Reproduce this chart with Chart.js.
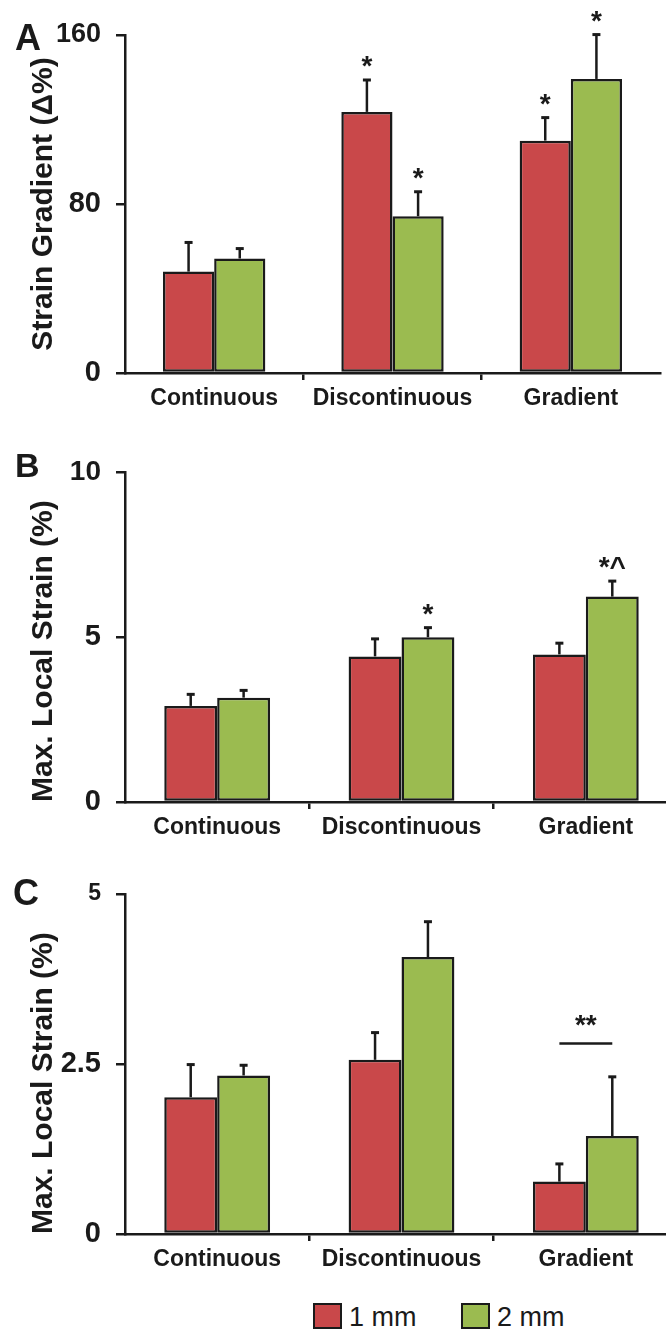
<!DOCTYPE html>
<html>
<head>
<meta charset="utf-8">
<script src="https://cdn.jsdelivr.net/npm/chart.js@4.4.1/dist/chart.umd.min.js"></script>
<style>
  html, body { margin: 0; padding: 0; background: #fff; overflow: hidden; }
  body { width: 666px; height: 1334px; position: relative; font-family: 'Liberation Sans', Arial, sans-serif; color: #1a1a1a; }
  canvas { position: absolute; left: 0; }
  .letra { position: absolute; font-weight: bold; font-size: 36px; line-height: 36px; }
  .caja { position: absolute; box-sizing: border-box; width: 29px; height: 26px; border: 2.5px solid #1a1a1a; }
  .texto { position: absolute; font-size: 27px; line-height: 26px; white-space: nowrap; }
</style>
</head>
<body>
<canvas id="panelA" width="666" height="440" style="top:0"></canvas>
<canvas id="panelB" width="690" height="425" style="top:440px"></canvas>
<canvas id="panelC" width="690" height="415" style="top:865px"></canvas>
<div class="letra" style="left:15px;top:20px">A</div>
<div class="letra" style="left:15px;top:448px;font-size:34px;line-height:34px">B</div>
<div class="letra" style="left:13px;top:875px">C</div>
<div id="leyenda"></div>
<script>
// ---------- Datos ----------
const categorias = ['Continuous', 'Discontinuous', 'Gradient']
const series = ['1 mm', '2 mm']

// Panel A: Strain Gradient (Δ%)
const gradiente1mm = [48, 123.6, 110]
const gradiente1mmErr = [13.8, 15.1, 10.9]
const gradiente1mmSig = ['', '*', '*']
const gradiente2mm = [54.2, 74.2, 139.2]
const gradiente2mmErr = [4.7, 11.6, 21]
const gradiente2mmSig = ['', '*', '*']
const ticksA = [0, 80, 160]

// Panel B: Max. Local Strain (%)
const deformB1mm = [2.91, 4.41, 4.47]
const deformB1mmErr = [0.35, 0.53, 0.34]
const deformB1mmSig = ['', '', '']
const deformB2mm = [3.16, 4.99, 6.22]
const deformB2mmErr = [0.22, 0.29, 0.47]
const deformB2mmSig = ['', '*', '*^']
const ticksB = [0, 5, 10]

// Panel C: Max. Local Strain (%)
const deformC1mm = [2.01, 2.56, 0.77]
const deformC1mmErr = [0.48, 0.4, 0.26]
const deformC2mm = [2.33, 4.07, 1.44]
const deformC2mmErr = [0.15, 0.52, 0.87]
const ticksC = [0, 2.5, 5]
// corchete "**" entre las dos barras de Gradient
const corcheteC = { categoria: 2, valor: 2.8, texto: '**' }

// ---------- Estilo ----------
const ROJO = '#c9484a'
const VERDE = '#9bbb50'
const NEGRO = '#1a1a1a'
const FUENTE = "'Liberation Sans', Arial, sans-serif"
Chart.defaults.font.family = FUENTE
Chart.defaults.color = NEGRO

// Texto centrado verticalmente en cy (usa la caja real del glifo)
function textoCentrado(ctx, texto, x, cy) {
  const m = ctx.measureText(texto)
  const base = cy + (m.actualBoundingBoxAscent - m.actualBoundingBoxDescent) / 2
  ctx.fillText(texto, x, base)
}

// ---------- Plugin: barras de error, asteriscos y corchete ----------
const barrasError = {
  id: 'barrasError',
  afterDatasetsDraw(chart) {
    const { ctx } = chart
    const y = chart.scales.y
    ctx.save()
    ctx.strokeStyle = NEGRO
    ctx.fillStyle = NEGRO
    ctx.textAlign = 'center'
    ctx.textBaseline = 'alphabetic'
    ctx.font = `bold 28px ${FUENTE}`
    chart.data.datasets.forEach((ds, i) => {
      const meta = chart.getDatasetMeta(i)
      meta.data.forEach((barra, j) => {
        const x = barra.x
        const yTop = y.getPixelForValue(ds.data[j] + ds.errores[j])
        ctx.lineWidth = 2.5
        ctx.beginPath()
        ctx.moveTo(x, barra.y)
        ctx.lineTo(x, yTop)
        ctx.stroke()
        ctx.lineWidth = 3
        ctx.beginPath()
        ctx.moveTo(x - 4, yTop)
        ctx.lineTo(x + 4, yTop)
        ctx.stroke()
        if (ds.sig && ds.sig[j]) textoCentrado(ctx, ds.sig[j], x, yTop - 18)
      })
    })
    const c = chart.options.corchete
    if (c) {
      const x1 = chart.getDatasetMeta(0).data[c.categoria].x
      const x2 = chart.getDatasetMeta(1).data[c.categoria].x
      const yc = y.getPixelForValue(c.valor)
      ctx.lineWidth = 2.5
      ctx.beginPath()
      ctx.moveTo(x1, yc)
      ctx.lineTo(x2, yc)
      ctx.stroke()
      textoCentrado(ctx, c.texto, (x1 + x2) / 2, yc - 23)
    }
    ctx.restore()
  }
}

// ---------- Creación de cada panel ----------
function crearPanel(id, p) {
  const maximo = p.ticks[p.ticks.length - 1]
  new Chart(document.getElementById(id), {
    type: 'bar',
    data: {
      labels: categorias,
      datasets: [
        {
          label: series[0], data: p.v1, errores: p.e1, sig: p.s1,
          backgroundColor: ROJO, borderColor: NEGRO, borderWidth: 2.5, borderSkipped: false
        },
        {
          label: series[1], data: p.v2, errores: p.e2, sig: p.s2,
          backgroundColor: VERDE, borderColor: NEGRO, borderWidth: 2.5, borderSkipped: false
        }
      ]
    },
    options: {
      responsive: false,
      animation: false,
      corchete: p.corchete,
      categoryPercentage: 0.574,
      barPercentage: 1,
      layout: { padding: { top: p.arriba, right: p.derecha, left: 0, bottom: 0 } },
      plugins: { legend: { display: false }, tooltip: { enabled: false } },
      scales: {
        x: {
          grid: {
            drawOnChartArea: false,
            offset: true,
            tickLength: 7,
            lineWidth: 2.5,
            color: ctx => (ctx.index === 1 || ctx.index === 2) ? NEGRO : 'rgba(0,0,0,0)'
          },
          border: { color: NEGRO, width: 2.5 },
          ticks: { color: NEGRO, font: { size: 23, weight: 'bold' }, padding: 5, maxRotation: 0, autoSkip: false },
          afterFit: s => { s.height = p.altoX }
        },
        y: {
          min: 0,
          max: maximo,
          afterBuildTicks: s => { s.ticks = p.ticks.map(v => ({ value: v })) },
          grid: { drawOnChartArea: false, tickLength: 9, lineWidth: 2.5, color: NEGRO },
          border: { color: NEGRO, width: 2.5 },
          ticks: {
            color: NEGRO,
            padding: 15,
            font: ctx => ({ size: (ctx.tick && ctx.tick.value === maximo) ? p.tamTope : 29, weight: 'bold' })
          },
          title: {
            display: true,
            text: p.titulo,
            color: NEGRO,
            align: p.alinea,
            font: { size: 30, weight: 'bold' },
            padding: { top: 26, bottom: 0 }
          },
          afterFit: s => { s.width = 125 }
        }
      }
    },
    plugins: [barrasError]
  })
}

crearPanel('panelA', {
  v1: gradiente1mm, e1: gradiente1mmErr, s1: gradiente1mmSig,
  v2: gradiente2mm, e2: gradiente2mmErr, s2: gradiente2mmSig,
  ticks: ticksA, tamTope: 27, titulo: 'Strain Gradient (Δ%)', alinea: 'center',
  arriba: 35, derecha: 6, altoX: 67
})

crearPanel('panelB', {
  v1: deformB1mm, e1: deformB1mmErr, s1: deformB1mmSig,
  v2: deformB2mm, e2: deformB2mmErr, s2: deformB2mmSig,
  ticks: ticksB, tamTope: 28, titulo: 'Max. Local Strain (%)', alinea: 'start',
  arriba: 24, derecha: 12, altoX: 63
})

crearPanel('panelC', {
  v1: deformC1mm, e1: deformC1mmErr,
  v2: deformC2mm, e2: deformC2mmErr,
  ticks: ticksC, tamTope: 23, titulo: 'Max. Local Strain (%)', alinea: 'start',
  arriba: 24, derecha: 12, altoX: 46, corchete: corcheteC
})

// ---------- Leyenda ----------
const leyenda = document.getElementById('leyenda')
const colores = [ROJO, VERDE]
const posCaja = [313, 461]
series.forEach((nombre, i) => {
  const caja = document.createElement('div')
  caja.className = 'caja'
  caja.style.left = posCaja[i] + 'px'
  caja.style.top = '1303px'
  caja.style.background = colores[i]
  const texto = document.createElement('div')
  texto.className = 'texto'
  texto.style.left = (posCaja[i] + 36) + 'px'
  texto.style.top = '1304px'
  texto.textContent = nombre
  leyenda.appendChild(caja)
  leyenda.appendChild(texto)
})
</script>
</body>
</html>
